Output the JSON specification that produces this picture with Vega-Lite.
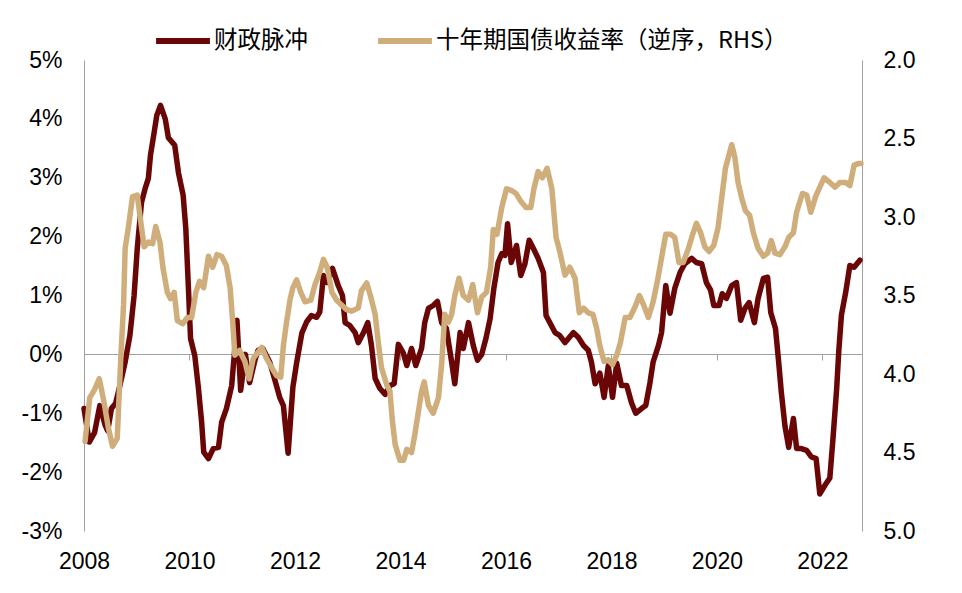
{
  "$schema": "https://vega.github.io/schema/vega-lite/v6.json",
  "width": 778,
  "height": 471,
  "autosize": "none",
  "padding": {"left": 84, "top": 60, "right": 100, "bottom": 62},
  "background": "white",
  "datasets": {
    "fiscal": [
      {"year": 2008.00, "impulse": -0.92}, {"year": 2008.10, "impulse": -1.49}, {"year": 2008.20, "impulse": -1.33},
      {"year": 2008.30, "impulse": -0.87}, {"year": 2008.40, "impulse": -1.20}, {"year": 2008.45, "impulse": -1.30},
      {"year": 2008.52, "impulse": -0.92}, {"year": 2008.60, "impulse": -0.83}, {"year": 2008.68, "impulse": -0.53},
      {"year": 2008.78, "impulse": -0.13}, {"year": 2008.87, "impulse": 0.32}, {"year": 2008.95, "impulse": 1.00},
      {"year": 2009.01, "impulse": 1.80}, {"year": 2009.09, "impulse": 2.58}, {"year": 2009.16, "impulse": 2.82},
      {"year": 2009.22, "impulse": 2.99}, {"year": 2009.26, "impulse": 3.38}, {"year": 2009.33, "impulse": 3.77},
      {"year": 2009.38, "impulse": 4.06}, {"year": 2009.45, "impulse": 4.23}, {"year": 2009.54, "impulse": 4.00},
      {"year": 2009.60, "impulse": 3.68}, {"year": 2009.72, "impulse": 3.55}, {"year": 2009.79, "impulse": 3.09},
      {"year": 2009.88, "impulse": 2.70}, {"year": 2009.93, "impulse": 2.14}, {"year": 2009.98, "impulse": 1.12},
      {"year": 2010.02, "impulse": 0.27}, {"year": 2010.10, "impulse": -0.02}, {"year": 2010.17, "impulse": -0.58},
      {"year": 2010.23, "impulse": -1.15}, {"year": 2010.27, "impulse": -1.66}, {"year": 2010.36, "impulse": -1.77},
      {"year": 2010.45, "impulse": -1.60}, {"year": 2010.55, "impulse": -1.58}, {"year": 2010.61, "impulse": -1.15},
      {"year": 2010.70, "impulse": -0.92}, {"year": 2010.80, "impulse": -0.53}, {"year": 2010.85, "impulse": 0.00},
      {"year": 2010.90, "impulse": 0.58}, {"year": 2010.97, "impulse": -0.61}, {"year": 2011.06, "impulse": 0.00},
      {"year": 2011.14, "impulse": -0.48}, {"year": 2011.24, "impulse": -0.10}, {"year": 2011.30, "impulse": 0.07},
      {"year": 2011.39, "impulse": 0.10}, {"year": 2011.52, "impulse": -0.13}, {"year": 2011.62, "impulse": -0.44},
      {"year": 2011.71, "impulse": -0.73}, {"year": 2011.78, "impulse": -0.87}, {"year": 2011.87, "impulse": -1.68},
      {"year": 2011.96, "impulse": -0.56}, {"year": 2012.03, "impulse": -0.15}, {"year": 2012.13, "impulse": 0.36},
      {"year": 2012.22, "impulse": 0.55}, {"year": 2012.31, "impulse": 0.66}, {"year": 2012.41, "impulse": 0.63},
      {"year": 2012.47, "impulse": 0.72}, {"year": 2012.54, "impulse": 1.34}, {"year": 2012.61, "impulse": 1.22},
      {"year": 2012.71, "impulse": 1.46}, {"year": 2012.82, "impulse": 1.17}, {"year": 2012.90, "impulse": 1.00},
      {"year": 2012.95, "impulse": 0.54}, {"year": 2013.04, "impulse": 0.49}, {"year": 2013.14, "impulse": 0.37},
      {"year": 2013.20, "impulse": 0.20}, {"year": 2013.30, "impulse": 0.37}, {"year": 2013.38, "impulse": 0.54},
      {"year": 2013.45, "impulse": 0.15}, {"year": 2013.52, "impulse": -0.41}, {"year": 2013.61, "impulse": -0.58},
      {"year": 2013.71, "impulse": -0.68}, {"year": 2013.80, "impulse": -0.53}, {"year": 2013.88, "impulse": -0.50},
      {"year": 2013.96, "impulse": 0.17}, {"year": 2014.05, "impulse": 0.03}, {"year": 2014.12, "impulse": -0.19},
      {"year": 2014.21, "impulse": 0.10}, {"year": 2014.29, "impulse": -0.19}, {"year": 2014.40, "impulse": 0.10},
      {"year": 2014.46, "impulse": 0.54}, {"year": 2014.53, "impulse": 0.78}, {"year": 2014.62, "impulse": 0.83},
      {"year": 2014.70, "impulse": 0.90}, {"year": 2014.78, "impulse": 0.54}, {"year": 2014.87, "impulse": 0.44},
      {"year": 2014.97, "impulse": -0.13}, {"year": 2015.03, "impulse": -0.50}, {"year": 2015.13, "impulse": 0.37},
      {"year": 2015.19, "impulse": 0.10}, {"year": 2015.29, "impulse": 0.54}, {"year": 2015.38, "impulse": 0.15},
      {"year": 2015.46, "impulse": -0.10}, {"year": 2015.54, "impulse": 0.00}, {"year": 2015.62, "impulse": 0.27},
      {"year": 2015.70, "impulse": 0.61}, {"year": 2015.77, "impulse": 1.12}, {"year": 2015.85, "impulse": 1.56},
      {"year": 2015.92, "impulse": 1.71}, {"year": 2015.98, "impulse": 1.68}, {"year": 2016.03, "impulse": 2.22},
      {"year": 2016.10, "impulse": 1.56}, {"year": 2016.20, "impulse": 1.85}, {"year": 2016.28, "impulse": 1.34},
      {"year": 2016.36, "impulse": 1.54}, {"year": 2016.44, "impulse": 1.94}, {"year": 2016.52, "impulse": 1.80},
      {"year": 2016.61, "impulse": 1.63}, {"year": 2016.71, "impulse": 1.39}, {"year": 2016.76, "impulse": 0.66},
      {"year": 2016.83, "impulse": 0.54}, {"year": 2016.93, "impulse": 0.37}, {"year": 2017.02, "impulse": 0.32},
      {"year": 2017.12, "impulse": 0.20}, {"year": 2017.28, "impulse": 0.37}, {"year": 2017.37, "impulse": 0.29},
      {"year": 2017.47, "impulse": 0.15}, {"year": 2017.56, "impulse": 0.07}, {"year": 2017.62, "impulse": -0.13},
      {"year": 2017.69, "impulse": -0.50}, {"year": 2017.78, "impulse": -0.32}, {"year": 2017.86, "impulse": -0.73},
      {"year": 2017.94, "impulse": -0.19}, {"year": 2018.02, "impulse": -0.73}, {"year": 2018.10, "impulse": -0.15},
      {"year": 2018.19, "impulse": -0.53}, {"year": 2018.29, "impulse": -0.53}, {"year": 2018.38, "impulse": -0.82},
      {"year": 2018.46, "impulse": -1.00}, {"year": 2018.57, "impulse": -0.92}, {"year": 2018.65, "impulse": -0.87},
      {"year": 2018.73, "impulse": -0.48}, {"year": 2018.79, "impulse": -0.13}, {"year": 2018.89, "impulse": 0.15},
      {"year": 2018.95, "impulse": 0.37}, {"year": 2019.03, "impulse": 1.17}, {"year": 2019.11, "impulse": 0.70},
      {"year": 2019.20, "impulse": 1.12}, {"year": 2019.30, "impulse": 1.39}, {"year": 2019.39, "impulse": 1.54},
      {"year": 2019.52, "impulse": 1.63}, {"year": 2019.61, "impulse": 1.56}, {"year": 2019.71, "impulse": 1.54},
      {"year": 2019.80, "impulse": 1.22}, {"year": 2019.88, "impulse": 1.09}, {"year": 2019.94, "impulse": 0.83},
      {"year": 2020.04, "impulse": 0.83}, {"year": 2020.10, "impulse": 1.03}, {"year": 2020.18, "impulse": 0.95},
      {"year": 2020.28, "impulse": 1.17}, {"year": 2020.37, "impulse": 1.22}, {"year": 2020.45, "impulse": 0.58},
      {"year": 2020.53, "impulse": 0.78}, {"year": 2020.61, "impulse": 0.88}, {"year": 2020.71, "impulse": 0.54},
      {"year": 2020.78, "impulse": 0.95}, {"year": 2020.88, "impulse": 1.29}, {"year": 2020.96, "impulse": 1.31},
      {"year": 2021.02, "impulse": 0.71}, {"year": 2021.11, "impulse": 0.44}, {"year": 2021.17, "impulse": -0.13},
      {"year": 2021.22, "impulse": -0.64}, {"year": 2021.29, "impulse": -1.22}, {"year": 2021.36, "impulse": -1.58},
      {"year": 2021.45, "impulse": -1.09}, {"year": 2021.51, "impulse": -1.60}, {"year": 2021.60, "impulse": -1.60},
      {"year": 2021.70, "impulse": -1.63}, {"year": 2021.79, "impulse": -1.74}, {"year": 2021.88, "impulse": -1.77},
      {"year": 2021.95, "impulse": -2.37}, {"year": 2022.05, "impulse": -2.22}, {"year": 2022.14, "impulse": -2.10},
      {"year": 2022.20, "impulse": -1.43}, {"year": 2022.27, "impulse": -0.58}, {"year": 2022.31, "impulse": 0.06},
      {"year": 2022.36, "impulse": 0.67}, {"year": 2022.44, "impulse": 1.05}, {"year": 2022.52, "impulse": 1.51},
      {"year": 2022.60, "impulse": 1.48}, {"year": 2022.71, "impulse": 1.60}
    ],
    "bond": [
      {"year": 2008.02, "yield": 4.43}, {"year": 2008.11, "yield": 4.15}, {"year": 2008.20, "yield": 4.10},
      {"year": 2008.29, "yield": 4.03}, {"year": 2008.38, "yield": 4.18}, {"year": 2008.46, "yield": 4.34},
      {"year": 2008.54, "yield": 4.46}, {"year": 2008.63, "yield": 4.41}, {"year": 2008.70, "yield": 3.88},
      {"year": 2008.75, "yield": 3.56}, {"year": 2008.78, "yield": 3.20}, {"year": 2008.84, "yield": 3.07},
      {"year": 2008.92, "yield": 2.87}, {"year": 2009.01, "yield": 2.86}, {"year": 2009.06, "yield": 2.99},
      {"year": 2009.14, "yield": 3.19}, {"year": 2009.22, "yield": 3.16}, {"year": 2009.30, "yield": 3.17},
      {"year": 2009.36, "yield": 3.06}, {"year": 2009.44, "yield": 3.16}, {"year": 2009.50, "yield": 3.33},
      {"year": 2009.58, "yield": 3.48}, {"year": 2009.64, "yield": 3.52}, {"year": 2009.71, "yield": 3.48},
      {"year": 2009.77, "yield": 3.66}, {"year": 2009.87, "yield": 3.68}, {"year": 2009.96, "yield": 3.64},
      {"year": 2010.04, "yield": 3.64}, {"year": 2010.12, "yield": 3.48}, {"year": 2010.19, "yield": 3.41},
      {"year": 2010.27, "yield": 3.45}, {"year": 2010.36, "yield": 3.25}, {"year": 2010.44, "yield": 3.32},
      {"year": 2010.52, "yield": 3.24}, {"year": 2010.61, "yield": 3.25}, {"year": 2010.70, "yield": 3.31},
      {"year": 2010.77, "yield": 3.45}, {"year": 2010.82, "yield": 3.67}, {"year": 2010.86, "yield": 3.88},
      {"year": 2010.95, "yield": 3.85}, {"year": 2011.05, "yield": 3.92}, {"year": 2011.13, "yield": 4.03},
      {"year": 2011.21, "yield": 3.90}, {"year": 2011.37, "yield": 3.83}, {"year": 2011.46, "yield": 3.90},
      {"year": 2011.56, "yield": 3.96}, {"year": 2011.65, "yield": 4.01}, {"year": 2011.73, "yield": 4.02},
      {"year": 2011.78, "yield": 3.82}, {"year": 2011.84, "yield": 3.67}, {"year": 2011.91, "yield": 3.52},
      {"year": 2011.96, "yield": 3.45}, {"year": 2012.03, "yield": 3.40}, {"year": 2012.11, "yield": 3.48},
      {"year": 2012.19, "yield": 3.54}, {"year": 2012.30, "yield": 3.53}, {"year": 2012.38, "yield": 3.43},
      {"year": 2012.47, "yield": 3.35}, {"year": 2012.54, "yield": 3.27}, {"year": 2012.61, "yield": 3.32},
      {"year": 2012.70, "yield": 3.48}, {"year": 2012.79, "yield": 3.53}, {"year": 2012.88, "yield": 3.56},
      {"year": 2012.98, "yield": 3.59}, {"year": 2013.07, "yield": 3.60}, {"year": 2013.20, "yield": 3.58},
      {"year": 2013.26, "yield": 3.47}, {"year": 2013.36, "yield": 3.42}, {"year": 2013.43, "yield": 3.50},
      {"year": 2013.52, "yield": 3.62}, {"year": 2013.58, "yield": 3.80}, {"year": 2013.64, "yield": 3.96},
      {"year": 2013.74, "yield": 4.07}, {"year": 2013.80, "yield": 4.11}, {"year": 2013.85, "yield": 4.31},
      {"year": 2013.90, "yield": 4.45}, {"year": 2013.99, "yield": 4.55}, {"year": 2014.06, "yield": 4.55},
      {"year": 2014.12, "yield": 4.48}, {"year": 2014.21, "yield": 4.50}, {"year": 2014.27, "yield": 4.39},
      {"year": 2014.34, "yield": 4.24}, {"year": 2014.40, "yield": 4.11}, {"year": 2014.45, "yield": 4.05},
      {"year": 2014.53, "yield": 4.20}, {"year": 2014.62, "yield": 4.25}, {"year": 2014.72, "yield": 4.15},
      {"year": 2014.78, "yield": 3.94}, {"year": 2014.84, "yield": 3.62}, {"year": 2014.91, "yield": 3.67},
      {"year": 2014.97, "yield": 3.62}, {"year": 2015.03, "yield": 3.50}, {"year": 2015.11, "yield": 3.39},
      {"year": 2015.19, "yield": 3.50}, {"year": 2015.29, "yield": 3.53}, {"year": 2015.37, "yield": 3.43},
      {"year": 2015.46, "yield": 3.61}, {"year": 2015.54, "yield": 3.51}, {"year": 2015.63, "yield": 3.48},
      {"year": 2015.71, "yield": 3.32}, {"year": 2015.76, "yield": 3.08}, {"year": 2015.83, "yield": 3.11},
      {"year": 2015.92, "yield": 2.94}, {"year": 2016.01, "yield": 2.82}, {"year": 2016.10, "yield": 2.83},
      {"year": 2016.19, "yield": 2.85}, {"year": 2016.28, "yield": 2.90}, {"year": 2016.38, "yield": 2.94},
      {"year": 2016.47, "yield": 2.94}, {"year": 2016.53, "yield": 2.82}, {"year": 2016.61, "yield": 2.71},
      {"year": 2016.69, "yield": 2.75}, {"year": 2016.78, "yield": 2.69}, {"year": 2016.87, "yield": 2.82},
      {"year": 2016.95, "yield": 3.13}, {"year": 2017.02, "yield": 3.22}, {"year": 2017.12, "yield": 3.37},
      {"year": 2017.21, "yield": 3.32}, {"year": 2017.31, "yield": 3.39}, {"year": 2017.39, "yield": 3.61},
      {"year": 2017.47, "yield": 3.58}, {"year": 2017.56, "yield": 3.61}, {"year": 2017.65, "yield": 3.62},
      {"year": 2017.72, "yield": 3.71}, {"year": 2017.78, "yield": 3.82}, {"year": 2017.86, "yield": 3.92},
      {"year": 2017.94, "yield": 3.91}, {"year": 2018.02, "yield": 3.94}, {"year": 2018.10, "yield": 3.88},
      {"year": 2018.17, "yield": 3.80}, {"year": 2018.26, "yield": 3.64}, {"year": 2018.35, "yield": 3.64},
      {"year": 2018.45, "yield": 3.57}, {"year": 2018.53, "yield": 3.50}, {"year": 2018.61, "yield": 3.56},
      {"year": 2018.70, "yield": 3.64}, {"year": 2018.79, "yield": 3.54}, {"year": 2018.87, "yield": 3.41},
      {"year": 2018.95, "yield": 3.26}, {"year": 2019.03, "yield": 3.11}, {"year": 2019.12, "yield": 3.11},
      {"year": 2019.20, "yield": 3.13}, {"year": 2019.28, "yield": 3.29}, {"year": 2019.36, "yield": 3.29},
      {"year": 2019.46, "yield": 3.20}, {"year": 2019.54, "yield": 3.11}, {"year": 2019.61, "yield": 3.04},
      {"year": 2019.69, "yield": 3.10}, {"year": 2019.77, "yield": 3.19}, {"year": 2019.85, "yield": 3.22},
      {"year": 2019.94, "yield": 3.18}, {"year": 2020.02, "yield": 3.07}, {"year": 2020.09, "yield": 2.88},
      {"year": 2020.16, "yield": 2.69}, {"year": 2020.28, "yield": 2.54}, {"year": 2020.34, "yield": 2.62},
      {"year": 2020.40, "yield": 2.78}, {"year": 2020.47, "yield": 2.88}, {"year": 2020.54, "yield": 2.96},
      {"year": 2020.62, "yield": 2.99}, {"year": 2020.69, "yield": 3.10}, {"year": 2020.78, "yield": 3.20},
      {"year": 2020.88, "yield": 3.25}, {"year": 2020.96, "yield": 3.23}, {"year": 2021.03, "yield": 3.15},
      {"year": 2021.10, "yield": 3.23}, {"year": 2021.19, "yield": 3.24}, {"year": 2021.29, "yield": 3.19},
      {"year": 2021.36, "yield": 3.13}, {"year": 2021.45, "yield": 3.10}, {"year": 2021.51, "yield": 2.97},
      {"year": 2021.62, "yield": 2.85}, {"year": 2021.70, "yield": 2.86}, {"year": 2021.78, "yield": 2.97},
      {"year": 2021.87, "yield": 2.87}, {"year": 2021.95, "yield": 2.81}, {"year": 2022.03, "yield": 2.75},
      {"year": 2022.14, "yield": 2.78}, {"year": 2022.24, "yield": 2.81}, {"year": 2022.33, "yield": 2.78},
      {"year": 2022.44, "yield": 2.78}, {"year": 2022.52, "yield": 2.80}, {"year": 2022.60, "yield": 2.67},
      {"year": 2022.68, "yield": 2.66}, {"year": 2022.73, "yield": 2.66}
    ]
  },
  "encoding": {
    "x": {
      "field": "year",
      "type": "quantitative",
      "scale": {"domain": [2008, 2022.75], "nice": false, "zero": false},
      "axis": {
        "title": null,
        "values": [2008, 2010, 2012, 2014, 2016, 2018, 2020, 2022],
        "format": "d",
        "grid": false,
        "offset": -177,
        "domainColor": "#A0A0A0",
        "tickColor": "#A0A0A0",
        "tickSize": 6,
        "labelPadding": 190,
        "labelFlush": false
      }
    }
  },
  "layer": [
    {
      "data": {"name": "fiscal"},
      "mark": {"type": "line", "strokeWidth": 5.5, "strokeJoin": "round", "strokeCap": "round"},
      "encoding": {
        "y": {
          "field": "impulse",
          "type": "quantitative",
          "scale": {"domain": [-3, 5], "nice": false},
          "axis": {
            "orient": "left",
            "title": null,
            "values": [-3, -2, -1, 0, 1, 2, 3, 4, 5],
            "labelExpr": "datum.value + '%'",
            "grid": false,
            "ticks": false,
            "domainColor": "#A0A0A0",
            "labelPadding": 22
          }
        },
        "color": {
          "datum": "财政脉冲",
          "type": "nominal",
          "scale": {
            "domain": ["财政脉冲", "十年期国债收益率（逆序，RHS）"],
            "range": ["#6B0606", "#CFAE7C"]
          },
          "legend": {
            "title": null,
            "orient": "none",
            "legendX": 69,
            "legendY": -49,
            "direction": "horizontal",
            "symbolType": "stroke",
            "symbolSize": 2900,
            "symbolStrokeWidth": 6,
            "labelFont": "Noto Sans CJK SC",
            "labelFontSize": 23.5,
            "labelColor": "#000000",
            "labelOffset": 1,
            "labelLimit": 500,
            "columnPadding": 58,
            "padding": 0
          }
        }
      }
    },
    {
      "data": {"name": "bond"},
      "mark": {"type": "line", "strokeWidth": 5.5, "strokeJoin": "round", "strokeCap": "round"},
      "encoding": {
        "y": {
          "field": "yield",
          "type": "quantitative",
          "scale": {"domain": [2.0, 5.0], "nice": false, "zero": false, "reverse": true},
          "axis": {
            "orient": "right",
            "title": null,
            "values": [2.0, 2.5, 3.0, 3.5, 4.0, 4.5, 5.0],
            "format": ".1f",
            "grid": false,
            "ticks": false,
            "domainColor": "#A0A0A0",
            "labelPadding": 21
          }
        },
        "color": {"datum": "十年期国债收益率（逆序，RHS）", "type": "nominal"}
      }
    }
  ],
  "resolve": {"scale": {"y": "independent"}},
  "config": {
    "view": {"stroke": null},
    "axis": {
      "labelFont": "Liberation Sans",
      "labelFontSize": 23,
      "labelColor": "#000000"
    }
  }
}
